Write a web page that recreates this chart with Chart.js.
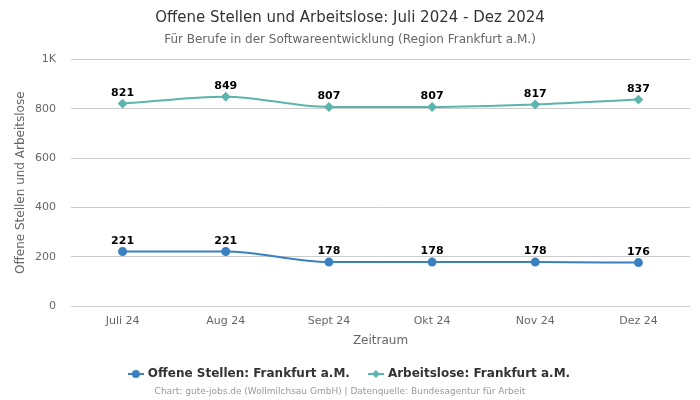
<!DOCTYPE html>
<html>
<head>
<meta charset="utf-8">
<script src="https://cdn.jsdelivr.net/npm/chart.js@4/dist/chart.umd.min.js"></script>
<style>
  html, body { margin: 0; padding: 0; background: #fff; }
  #wrap { width: 700px; height: 400px; }
</style>
</head>
<body>
<div id="wrap"><canvas id="chart"></canvas></div>
<script>
const monate = ["Juli 24", "Aug 24", "Sept 24", "Okt 24", "Nov 24", "Dez 24"];
const offeneStellen = [221, 221, 178, 178, 178, 176];
const arbeitslose = [821, 849, 807, 807, 817, 837];
const yTicks = [0, 200, 400, 600, 800, 1000];

const farbeStellen = "#3a80c0";
const farbeArbeitslose = "#5bb5ad";

// Legendensymbol: Linie mit Marker
function legendenSymbol(farbe, form) {
    const c = document.createElement("canvas");
    c.width = 16; c.height = 10;
    const g = c.getContext("2d");
    g.strokeStyle = farbe;
    g.lineWidth = 2;
    g.beginPath(); g.moveTo(0, 5); g.lineTo(16, 5); g.stroke();
    g.fillStyle = farbe;
    g.beginPath();
    if (form === "kreis") {
        g.arc(8, 5, 4, 0, Math.PI * 2);
    } else {
        g.moveTo(8, 1); g.lineTo(12, 5); g.lineTo(8, 9); g.lineTo(4, 5); g.closePath();
    }
    g.fill();
    return c;
}

// Werte ueber den Punkten
const wertePlugin = {
    id: "werte",
    afterDatasetsDraw(chart) {
        const ctx = chart.ctx;
        ctx.save();
        ctx.font = "bold 11px 'DejaVu Sans'";
        ctx.fillStyle = "#000";
        ctx.textAlign = "center";
        ctx.textBaseline = "bottom";
        chart.data.datasets.forEach((ds, i) => {
            chart.getDatasetMeta(i).data.forEach((p, j) => {
                ctx.fillText(ds.data[j], p.x, p.y - 5);
            });
        });
        ctx.restore();
    }
};

const quellePlugin = {
    id: "quelle",
    afterDraw(chart) {
        const ctx = chart.ctx;
        ctx.save();
        ctx.font = "9px 'DejaVu Sans'";
        ctx.fillStyle = "#999";
        ctx.textAlign = "center";
        ctx.textBaseline = "middle";
        ctx.fillText("Chart: gute-jobs.de (Wollmilchsau GmbH) | Datenquelle: Bundesagentur für Arbeit", 340, 392);
        ctx.restore();
    }
};

Chart.defaults.font.family = "'DejaVu Sans', sans-serif";

new Chart(document.getElementById("chart"), {
    type: "line",
    data: {
        labels: monate,
        datasets: [{
            label: "Offene Stellen: Frankfurt a.M.",
            data: offeneStellen,
            borderColor: farbeStellen,
            backgroundColor: farbeStellen,
            borderWidth: 2,
            pointStyle: "circle",
            pointRadius: 3.5,
            cubicInterpolationMode: "monotone"
        }, {
            label: "Arbeitslose: Frankfurt a.M.",
            data: arbeitslose,
            borderColor: farbeArbeitslose,
            backgroundColor: farbeArbeitslose,
            borderWidth: 2,
            pointStyle: "rectRot",
            pointRadius: 3.5,
            cubicInterpolationMode: "monotone"
        }]
    },
    options: {
        responsive: true,
        maintainAspectRatio: false,
        animation: false,
        layout: { padding: { left: 10, right: 10, bottom: 10 } },
        plugins: {
            title: {
                display: true,
                text: "Offene Stellen und Arbeitslose: Juli 2024 - Dez 2024",
                color: "#333",
                font: { size: 15, weight: "normal" },
                padding: { top: 9, bottom: 6 }
            },
            subtitle: {
                display: true,
                text: "Für Berufe in der Softwareentwicklung (Region Frankfurt a.M.)",
                color: "#666",
                font: { size: 12 },
                padding: { bottom: 12 }
            },
            legend: {
                position: "bottom",
                labels: {
                    usePointStyle: true,
                    color: "#333",
                    font: { size: 12, weight: "bold" },
                    padding: 20,
                    generateLabels(chart) {
                        return chart.data.datasets.map((ds, i) => ({
                            text: ds.label,
                            fillStyle: ds.borderColor,
                            strokeStyle: ds.borderColor,
                            fontColor: "#333",
                            pointStyle: legendenSymbol(ds.borderColor, i === 0 ? "kreis" : "raute"),
                            datasetIndex: i,
                            hidden: false
                        }));
                    }
                }
            },
            tooltip: { enabled: false }
        },
        scales: {
            x: {
                offset: true,
                grid: { display: false, drawTicks: false },
                border: { display: false },
                ticks: { color: "#666", font: { size: 11 }, padding: 9 },
                title: { display: true, text: "Zeitraum", color: "#666", font: { size: 12 }, padding: { top: 0, bottom: 0 } },
                afterFit(axis) { axis.height = 42; }
            },
            y: {
                min: 0,
                max: 1000,
                afterBuildTicks(axis) { axis.ticks = yTicks.map(v => ({ value: v })); },
                grid: { color: "#cccccc", drawTicks: false },
                border: { display: false },
                ticks: {
                    color: "#666",
                    font: { size: 11 },
                    padding: 15,
                    callback: v => v >= 1000 ? (v / 1000) + "K" : v
                },
                title: { display: true, text: "Offene Stellen und Arbeitslose", color: "#666", font: { size: 12 } },
                afterFit(axis) { axis.width = 61; }
            }
        }
    },
    plugins: [wertePlugin, quellePlugin]
});
</script>
</body>
</html>
